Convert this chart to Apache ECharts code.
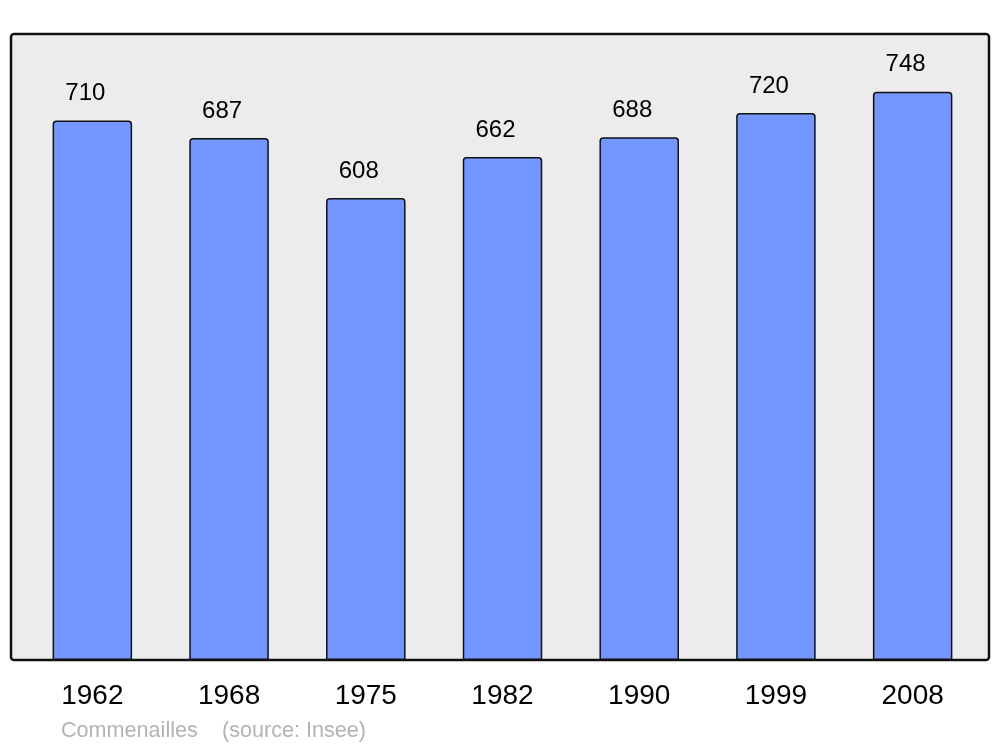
<!DOCTYPE html>
<html>
<head>
<meta charset="utf-8">
<script src="https://cdn.jsdelivr.net/npm/echarts@6/dist/echarts.min.js"></script>
<style>html,body{margin:0;padding:0;background:#fff}#c{width:1000px;height:747px}</style>
</head>
<body>
<div id="c"></div>
<script>
var years = ['1962', '1968', '1975', '1982', '1990', '1999', '2008'];
var population = [710, 687, 608, 662, 688, 720, 748];
var commune = 'Commenailles';
var sourceText = '(source: Insee)';

var chart = echarts.init(document.getElementById('c'), null, {renderer: 'canvas'});
chart.setOption({
  animation: false,
  backgroundColor: '#ffffff',
  textStyle: {fontFamily: 'Liberation Sans, Arial, sans-serif'},
  graphic: [
    {type: 'rect', z: -10, shape: {x: 11, y: 34, width: 978, height: 626, r: 3},
     style: {fill: '#ececec', stroke: '#111111', lineWidth: 2.5}},
    {type: 'text', left: 61, top: 720, style: {text: commune, fill: '#b3b3b3', font: '21.6px "Liberation Sans", Arial, sans-serif'}},
    {type: 'text', left: 222, top: 720, style: {text: sourceText, fill: '#b3b3b3', font: '21.6px "Liberation Sans", Arial, sans-serif'}}
  ],
  grid: {left: 24, right: 19, top: 34, bottom: 87},
  xAxis: {
    type: 'category', data: years,
    axisLine: {show: false}, axisTick: {show: false},
    axisLabel: {color: '#000', fontSize: 28, margin: 22, fontFamily: 'Liberation Sans, Arial, sans-serif'}
  },
  yAxis: {type: 'value', min: 0, max: 824, show: false, splitLine: {show: false}},
  series: [{
    type: 'bar', data: population, barWidth: 79.5,
    itemStyle: {color: '#7396ff', borderColor: '#111111', borderWidth: 1.5, borderRadius: [3, 3, 0, 0]},
    label: {show: true, position: 'top', distance: 15, offset: [-7, 0], color: '#000', fontSize: 24,
            fontFamily: 'Liberation Sans, Arial, sans-serif'}
  }]
});
</script>
</body>
</html>
